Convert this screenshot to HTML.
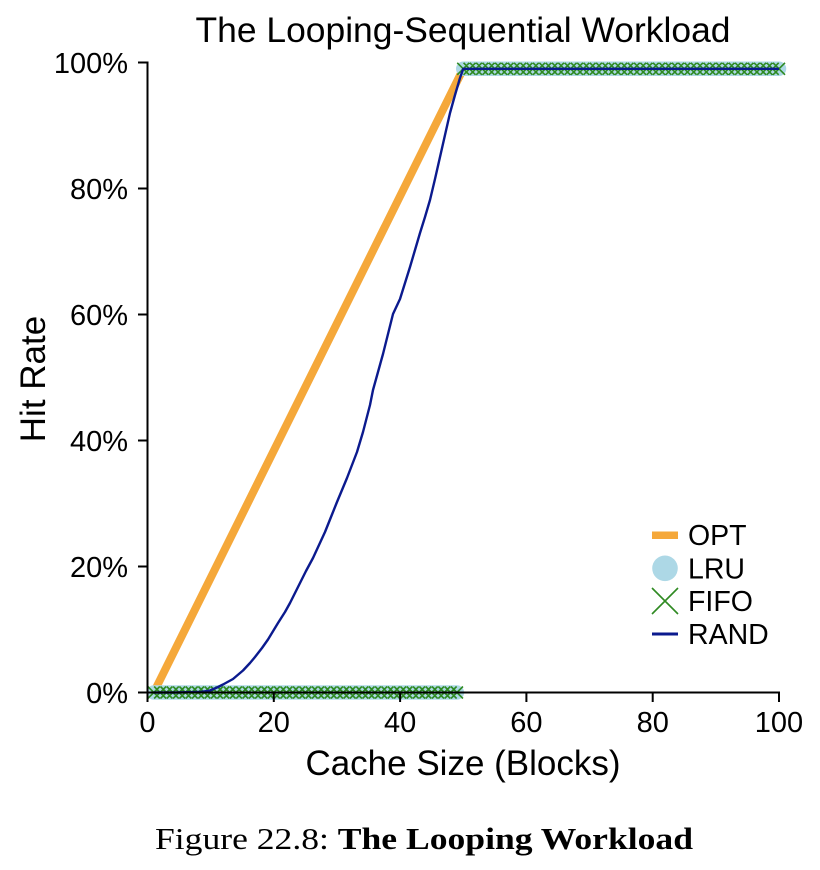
<!DOCTYPE html>
<html>
<head>
<meta charset="utf-8">
<style>
  html, body { margin: 0; padding: 0; background: #ffffff; }
  body { width: 820px; height: 870px; overflow: hidden; }
  svg { display: block; }
  .sans { font-family: "Liberation Sans", Arial, sans-serif; fill: #000; }
  .serif { font-family: "Liberation Serif", "Times New Roman", serif; fill: #000; }
</style>
</head>
<body>
<svg width="820" height="870" viewBox="0 0 820 870" xmlns="http://www.w3.org/2000/svg">
  <rect x="0" y="0" width="820" height="870" fill="#ffffff"/>

  <!-- Title -->
  <text class="sans" x="463" y="42" font-size="35" text-anchor="middle" textLength="535" lengthAdjust="spacingAndGlyphs">The Looping-Sequential Workload</text>

  <!-- OPT -->
  <polyline points="153.8,692.5 463.25,68.8 779,68.8" fill="none" stroke="#f5a83a" stroke-width="8" stroke-linejoin="miter"/>

  <!-- LRU (circles merged into bands) -->
  <line x1="153.8" y1="692.5" x2="456.9" y2="692.5" stroke="#add8e6" stroke-width="14.5" stroke-linecap="round"/>
  <line x1="463.25" y1="68.8" x2="779" y2="68.8" stroke="#add8e6" stroke-width="14.5" stroke-linecap="round"/>

  <!-- FIFO X markers -->
  <path fill="none" stroke="#2f8a22" stroke-width="1.6" d="M147.815 686.5
  l12 12m-12 0l12-12m-5.685 0 l12 12m-12 0l12-12m-5.685 0 l12 12m-12 0l12-12m-5.685 0 l12 12m-12 0l12-12m-5.685 0 l12 12m-12 0l12-12m-5.685 0 l12 12m-12 0l12-12m-5.685 0 l12 12m-12 0l12-12m-5.685 0
  l12 12m-12 0l12-12m-5.685 0 l12 12m-12 0l12-12m-5.685 0 l12 12m-12 0l12-12m-5.685 0 l12 12m-12 0l12-12m-5.685 0 l12 12m-12 0l12-12m-5.685 0 l12 12m-12 0l12-12m-5.685 0 l12 12m-12 0l12-12m-5.685 0
  l12 12m-12 0l12-12m-5.685 0 l12 12m-12 0l12-12m-5.685 0 l12 12m-12 0l12-12m-5.685 0 l12 12m-12 0l12-12m-5.685 0 l12 12m-12 0l12-12m-5.685 0 l12 12m-12 0l12-12m-5.685 0 l12 12m-12 0l12-12m-5.685 0
  l12 12m-12 0l12-12m-5.685 0 l12 12m-12 0l12-12m-5.685 0 l12 12m-12 0l12-12m-5.685 0 l12 12m-12 0l12-12m-5.685 0 l12 12m-12 0l12-12m-5.685 0 l12 12m-12 0l12-12m-5.685 0 l12 12m-12 0l12-12m-5.685 0
  l12 12m-12 0l12-12m-5.685 0 l12 12m-12 0l12-12m-5.685 0 l12 12m-12 0l12-12m-5.685 0 l12 12m-12 0l12-12m-5.685 0 l12 12m-12 0l12-12m-5.685 0 l12 12m-12 0l12-12m-5.685 0 l12 12m-12 0l12-12m-5.685 0
  l12 12m-12 0l12-12m-5.685 0 l12 12m-12 0l12-12m-5.685 0 l12 12m-12 0l12-12m-5.685 0 l12 12m-12 0l12-12m-5.685 0 l12 12m-12 0l12-12m-5.685 0 l12 12m-12 0l12-12m-5.685 0 l12 12m-12 0l12-12m-5.685 0
  l12 12m-12 0l12-12m-5.685 0 l12 12m-12 0l12-12m-5.685 0 l12 12m-12 0l12-12m-5.685 0 l12 12m-12 0l12-12m-5.685 0 l12 12m-12 0l12-12m-5.685 0 l12 12m-12 0l12-12m-5.685 0 l12 12m-12 0l12-12m-5.685 0
  M457.25 62.8
  l12 12m-12 0l12-12m-5.685 0 l12 12m-12 0l12-12m-5.685 0 l12 12m-12 0l12-12m-5.685 0 l12 12m-12 0l12-12m-5.685 0 l12 12m-12 0l12-12m-5.685 0 l12 12m-12 0l12-12m-5.685 0 l12 12m-12 0l12-12m-5.685 0
  l12 12m-12 0l12-12m-5.685 0 l12 12m-12 0l12-12m-5.685 0 l12 12m-12 0l12-12m-5.685 0 l12 12m-12 0l12-12m-5.685 0 l12 12m-12 0l12-12m-5.685 0 l12 12m-12 0l12-12m-5.685 0 l12 12m-12 0l12-12m-5.685 0
  l12 12m-12 0l12-12m-5.685 0 l12 12m-12 0l12-12m-5.685 0 l12 12m-12 0l12-12m-5.685 0 l12 12m-12 0l12-12m-5.685 0 l12 12m-12 0l12-12m-5.685 0 l12 12m-12 0l12-12m-5.685 0 l12 12m-12 0l12-12m-5.685 0
  l12 12m-12 0l12-12m-5.685 0 l12 12m-12 0l12-12m-5.685 0 l12 12m-12 0l12-12m-5.685 0 l12 12m-12 0l12-12m-5.685 0 l12 12m-12 0l12-12m-5.685 0 l12 12m-12 0l12-12m-5.685 0 l12 12m-12 0l12-12m-5.685 0
  l12 12m-12 0l12-12m-5.685 0 l12 12m-12 0l12-12m-5.685 0 l12 12m-12 0l12-12m-5.685 0 l12 12m-12 0l12-12m-5.685 0 l12 12m-12 0l12-12m-5.685 0 l12 12m-12 0l12-12m-5.685 0 l12 12m-12 0l12-12m-5.685 0
  l12 12m-12 0l12-12m-5.685 0 l12 12m-12 0l12-12m-5.685 0 l12 12m-12 0l12-12m-5.685 0 l12 12m-12 0l12-12m-5.685 0 l12 12m-12 0l12-12m-5.685 0 l12 12m-12 0l12-12m-5.685 0 l12 12m-12 0l12-12m-5.685 0
  l12 12m-12 0l12-12m-5.685 0 l12 12m-12 0l12-12m-5.685 0 l12 12m-12 0l12-12m-5.685 0 l12 12m-12 0l12-12m-5.685 0 l12 12m-12 0l12-12m-5.685 0 l12 12m-12 0l12-12m-5.685 0 l12 12m-12 0l12-12m-5.685 0
  l12 12m-12 0l12-12m-5.685 0 l12 12m-12 0l12-12m-5.685 0"/>

  <!-- RAND -->
  <polyline fill="none" stroke="#0b1a8e" stroke-width="2.4" stroke-linejoin="round"
    points="153.8,692.5 175,692.5 200,692 210,690.5 217,687.5 223,684.5 233,679 243,670.5 250,663 255,657 262,648 268,639.5 278,623 285,612 290,603 300,583 306,571 313,558 319,545 325,532 331,517 337,502 342,490 347,478 352,465 357,452 363,432 370,405 373,390 378,372 383,354 388,334 393,314 400,299 405,283 410,267 415,250 420,233 425,217 430,200 435,179 440,157 445,135 450,113 455,95 460,78 463.25,68.8 779,68.8"/>

  <!-- Axes spines -->
  <line x1="147.5" y1="61.5" x2="147.5" y2="693.5" stroke="#000" stroke-width="2"/>
  <line x1="146.5" y1="692.5" x2="780" y2="692.5" stroke="#000" stroke-width="2"/>

  <!-- Y ticks -->
  <g stroke="#000" stroke-width="2">
    <line x1="138" y1="692.5" x2="147.5" y2="692.5"/>
    <line x1="138" y1="566.5" x2="147.5" y2="566.5"/>
    <line x1="138" y1="440.5" x2="147.5" y2="440.5"/>
    <line x1="138" y1="314.5" x2="147.5" y2="314.5"/>
    <line x1="138" y1="188.5" x2="147.5" y2="188.5"/>
    <line x1="138" y1="62.5" x2="147.5" y2="62.5"/>
  </g>
  <g class="sans" font-size="29" text-anchor="end">
    <text x="128" y="703">0%</text>
    <text x="128" y="577">20%</text>
    <text x="128" y="451">40%</text>
    <text x="128" y="325">60%</text>
    <text x="128" y="199">80%</text>
    <text x="128" y="73">100%</text>
  </g>

  <!-- X ticks -->
  <g stroke="#000" stroke-width="2">
    <line x1="147.5" y1="692.5" x2="147.5" y2="702"/>
    <line x1="273.8" y1="692.5" x2="273.8" y2="702"/>
    <line x1="400.1" y1="692.5" x2="400.1" y2="702"/>
    <line x1="526.4" y1="692.5" x2="526.4" y2="702"/>
    <line x1="652.7" y1="692.5" x2="652.7" y2="702"/>
    <line x1="779" y1="692.5" x2="779" y2="702"/>
  </g>
  <g class="sans" font-size="29" text-anchor="middle">
    <text x="147.5" y="732">0</text>
    <text x="273.8" y="732">20</text>
    <text x="400.1" y="732">40</text>
    <text x="526.4" y="732">60</text>
    <text x="652.7" y="732">80</text>
    <text x="779" y="732">100</text>
  </g>

  <!-- Axis labels -->
  <text class="sans" x="463" y="775" font-size="35" text-anchor="middle">Cache Size (Blocks)</text>
  <text class="sans" font-size="35" text-anchor="middle" transform="translate(45,379) rotate(-90)">Hit Rate</text>

  <!-- Legend -->
  <rect x="652" y="531.5" width="26" height="7.5" fill="#f5a83a"/>
  <circle cx="665" cy="568.3" r="12.8" fill="#add8e6"/>
  <path d="M652 588 L678 614 M652 614 L678 588" stroke="#2f8a22" stroke-width="1.6" fill="none"/>
  <line x1="652" y1="634" x2="678" y2="634" stroke="#0b1a8e" stroke-width="3"/>
  <g class="sans" font-size="28.5">
    <text x="688" y="545">OPT</text>
    <text x="688" y="578.5">LRU</text>
    <text x="688" y="611">FIFO</text>
    <text x="688" y="644">RAND</text>
  </g>

  <!-- Caption -->
  <text class="serif" x="155" y="849" font-size="31" textLength="538" lengthAdjust="spacingAndGlyphs">Figure 22.8: <tspan font-weight="bold">The Looping Workload</tspan></text>
</svg>
</body>
</html>
